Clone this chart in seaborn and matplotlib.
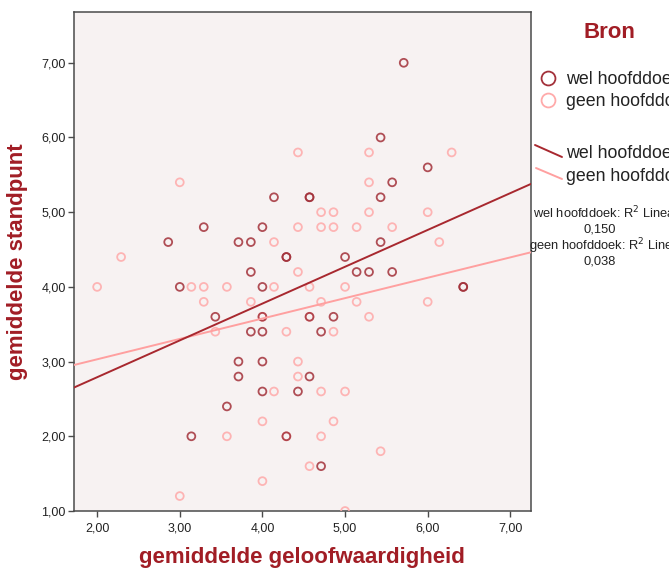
import numpy as np
import pandas as pd
import matplotlib
matplotlib.use("Agg")
import matplotlib.pyplot as plt
from matplotlib.lines import Line2D
from matplotlib.ticker import FuncFormatter
import seaborn as sns

# ---- data (darker rings = two overlapping cases) ----
wel_x = [2.86, 3.00, 3.14, 3.29, 3.43, 3.57, 3.71, 3.71, 3.71, 3.86, 3.86, 3.86,
         4.00, 4.00, 4.00, 4.00, 4.00, 4.00, 4.14, 4.29, 4.29, 4.29, 4.43, 4.57,
         4.57, 4.57, 4.57, 4.71, 4.71, 4.86, 5.00, 5.14, 5.29, 5.43, 5.43, 5.43,
         5.57, 5.57, 5.71, 6.00, 6.43, 6.43]
wel_y = [4.6, 4.0, 2.0, 4.8, 3.6, 2.4, 4.6, 3.0, 2.8, 4.6, 4.2, 3.4,
         4.8, 4.0, 3.6, 3.4, 3.0, 2.6, 5.2, 4.4, 4.4, 2.0, 2.6, 5.2,
         5.2, 3.6, 2.8, 3.4, 1.6, 3.6, 4.4, 4.2, 4.2, 6.0, 5.2, 4.6,
         5.4, 4.2, 7.0, 5.6, 4.0, 4.0]

geen_x = [2.00, 2.29, 3.00, 3.00, 3.14, 3.29, 3.29, 3.43, 3.57, 3.57, 3.86, 4.00,
          4.00, 4.00, 4.14, 4.14, 4.14, 4.29, 4.29, 4.43, 4.43, 4.43, 4.43, 4.43,
          4.57, 4.57, 4.57, 4.71, 4.71, 4.71, 4.71, 4.71, 4.86, 4.86, 4.86, 4.86,
          5.00, 5.00, 5.00, 5.14, 5.14, 5.29, 5.29, 5.29, 5.29, 5.43, 5.57, 6.00,
          6.00, 6.14, 6.29]
geen_y = [4.0, 4.4, 5.4, 1.2, 4.0, 4.0, 3.8, 3.4, 4.0, 2.0, 3.8, 3.6,
          2.2, 1.4, 4.6, 4.0, 2.6, 3.4, 2.0, 5.8, 4.8, 4.2, 3.0, 2.8,
          4.0, 3.6, 1.6, 5.0, 4.8, 3.8, 2.6, 2.0, 5.0, 4.8, 3.4, 2.2,
          4.0, 2.6, 1.0, 4.8, 3.8, 5.8, 5.4, 5.0, 3.6, 1.8, 4.8, 5.0,
          3.8, 4.6, 5.8]

groups = ["wel hoofddoek", "geen hoofddoek"]
r2_labels = ["0,150", "0,038"]
x_ticks = [2, 3, 4, 5, 6, 7]
y_ticks = [1, 2, 3, 4, 5, 6, 7]

df = pd.DataFrame({
    "x": wel_x + geen_x,
    "y": wel_y + geen_y,
    "Bron": [groups[0]] * len(wel_x) + [groups[1]] * len(geen_x),
})

# ---- style ----
sns.set_style("ticks")
plt.rcParams["font.family"] = ["Liberation Sans", "DejaVu Sans"]

DARK = "#a3313a"
LIGHT = "#ffaaaa"
DARK_LINE = "#a8282f"
LIGHT_LINE = "#ffa0a0"
TITLE_RED = "#a11d25"
BG = "#f7f2f2"
SPINE = "#4a4a4a"

W, H = 669, 570
fig = plt.figure(figsize=(W / 100, H / 100), dpi=100)
ax = fig.add_axes([74 / W, 1 - 511 / H, (531 - 74) / W, (511 - 12) / H])
ax.set_facecolor(BG)

XLIM = (1.72, 7.25)
YLIM = (1.0, 7.68)
ax.set_xlim(*XLIM)
ax.set_ylim(*YLIM)

# draw light group first, then dark group
for g, col, lcol in [(groups[1], LIGHT, LIGHT_LINE), (groups[0], DARK, DARK_LINE)]:
    sub = df[df["Bron"] == g]
    sns.regplot(data=sub, x="x", y="y", ax=ax, ci=None, truncate=False,
                scatter_kws=dict(facecolors="none", edgecolors=col, s=32,
                                 linewidths=1.3, alpha=0.85, zorder=3),
                line_kws=dict(color=lcol, lw=1.4, zorder=4))

ax.set_xlim(*XLIM)
ax.set_ylim(*YLIM)

ax.set_xticks(x_ticks)
ax.set_yticks(y_ticks)
fmt = FuncFormatter(lambda v, p: f"{v:.2f}".replace(".", ","))
ax.xaxis.set_major_formatter(fmt)
ax.yaxis.set_major_formatter(fmt)
ax.tick_params(axis="both", direction="out", length=4, width=1, color=SPINE,
               labelsize=9, labelcolor="#222222", pad=2)
ax.tick_params(axis="x", pad=4)
for s in ax.spines.values():
    s.set_visible(True)
    s.set_color(SPINE)
    s.set_linewidth(1.1)

ax.set_xlabel("")
ax.set_ylabel("")
fig.text(302 / W, 1 - 557 / H, "gemiddelde geloofwaardigheid", ha="center",
         va="center", fontsize=16, fontweight="bold", color=TITLE_RED)
fig.text(18 / W, 1 - 262 / H, "gemiddelde standpunt", ha="center", va="center",
         rotation=90, fontsize=16, fontweight="bold", color=TITLE_RED)

# ---- legend (outside, right; clipped by the figure edge as in the reference) ----
fig.text(609 / W, 1 - 33 / H, "Bron", ha="center", va="center", fontsize=16,
         fontweight="bold", color=TITLE_RED)
for py, col, lab in [(78, DARK, groups[0]), (100, LIGHT, groups[1])]:
    fig.add_artist(Line2D([548 / W], [1 - py / H], marker="o", markersize=10,
                          markerfacecolor="none", markeredgecolor=col,
                          markeredgewidth=1.3, transform=fig.transFigure))
    fig.text(566 / W, 1 - (py + 1) / H, lab, ha="left", va="center",
             fontsize=12.8, color="#222222")
for (x0, y0, x1, y1), col, lab, ty in [((535, 145, 562, 157), DARK_LINE, groups[0], 154),
                                        ((536, 168, 562, 179), LIGHT_LINE, groups[1], 176)]:
    fig.add_artist(Line2D([x0 / W, x1 / W], [1 - y0 / H, 1 - y1 / H], color=col,
                          lw=1.4, transform=fig.transFigure))
    fig.text(566 / W, 1 - ty / H, lab, ha="left", va="center", fontsize=12.8,
             color="#222222")

for px, py, g, r2 in [(533, 213, groups[0], r2_labels[0]),
                      (529, 246, groups[1], r2_labels[1])]:
    fig.text(px / W, 1 - py / H, f"{g}: R$^2$ Linear =", ha="left",
             va="center", fontsize=9.3, color="#222222")
    fig.text(600 / W, 1 - (py + 16) / H, r2, ha="center", va="center",
             fontsize=9.3, color="#222222")

fig.savefig("out.png", dpi=100, facecolor="white")
